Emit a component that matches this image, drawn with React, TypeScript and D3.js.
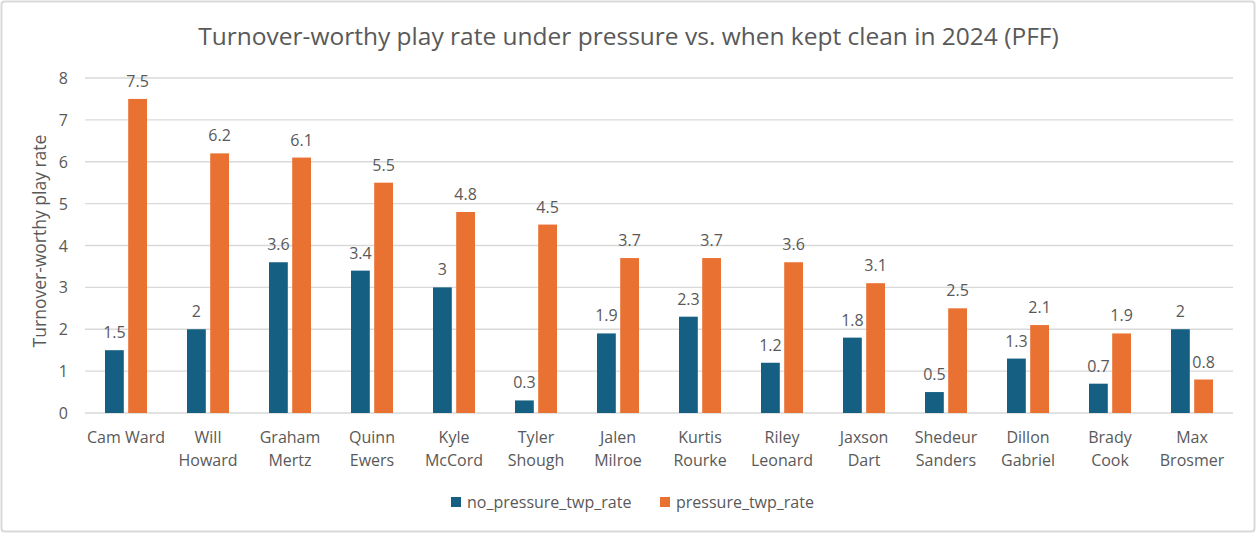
import React from "react";
import * as d3 from "d3";

const players = [
  "Cam Ward",
  "Will Howard",
  "Graham Mertz",
  "Quinn Ewers",
  "Kyle McCord",
  "Tyler Shough",
  "Jalen Milroe",
  "Kurtis Rourke",
  "Riley Leonard",
  "Jaxson Dart",
  "Shedeur Sanders",
  "Dillon Gabriel",
  "Brady Cook",
  "Max Brosmer",
];
// label lines as Excel wrapped them
const playerLines = [
  ["Cam Ward"],
  ["Will", "Howard"],
  ["Graham", "Mertz"],
  ["Quinn", "Ewers"],
  ["Kyle", "McCord"],
  ["Tyler", "Shough"],
  ["Jalen", "Milroe"],
  ["Kurtis", "Rourke"],
  ["Riley", "Leonard"],
  ["Jaxson", "Dart"],
  ["Shedeur", "Sanders"],
  ["Dillon", "Gabriel"],
  ["Brady", "Cook"],
  ["Max", "Brosmer"],
];
const noPressure = [1.5, 2, 3.6, 3.4, 3, 0.3, 1.9, 2.3, 1.2, 1.8, 0.5, 1.3, 0.7, 2];
const pressure = [7.5, 6.2, 6.1, 5.5, 4.8, 4.5, 3.7, 3.7, 3.6, 3.1, 2.5, 2.1, 1.9, 0.8];
const seriesNames = ["no_pressure_twp_rate", "pressure_twp_rate"];
const yTicks = [0, 1, 2, 3, 4, 5, 6, 7, 8];

const W = 1257;
const H = 533;
const colors = ["#156082", "#E97132"];
const textColor = "#595959";
const font = "'Open Sans', 'Noto Sans', sans-serif";

export default function App() {
  const left = 85;
  const right = 1233;
  const top = 78;
  const bottom = 413;

  const x = d3.scaleBand().domain(players).range([left, right]);
  const groupW = 42;
  const off = (x.bandwidth() - groupW) / 2;
  const inner = d3
    .scaleBand()
    .domain(seriesNames)
    .range([off, off + groupW])
    .paddingInner(0.19);
  const y = d3.scaleLinear().domain([0, 8]).range([bottom, top]);

  const series = [noPressure, pressure];

  return (
    <svg
      width={W}
      height={H}
      style={{ position: "fixed", left: 0, top: 0, background: "#fff", fontFamily: font }}
    >
      <rect x={1.5} y={1.5} width={W - 4} height={H - 3} rx={3} fill="#fff" stroke="#d9d9d9" strokeWidth={2} />
      <text x={W / 2 + 0} y={45} textAnchor="middle" fontSize={24.5} fill={textColor}>
        Turnover-worthy play rate under pressure vs. when kept clean in 2024 (PFF)
      </text>

      {yTicks.map((t) => (
        <g key={t}>
          <line x1={left} x2={right} y1={y(t)} y2={y(t)} stroke="#d9d9d9" strokeWidth={t === 0 ? 1.5 : 1.3} />
          <text x={68} y={y(t) + 6} textAnchor="end" fontSize={16} fill={textColor}>
            {t}
          </text>
        </g>
      ))}

      <text
        transform={`translate(46,${241}) rotate(-90)`}
        textAnchor="middle"
        fontSize={17.5}
        fill={textColor}
      >
        Turnover-worthy play rate
      </text>

      {players.map((p, i) => (
        <g key={p}>
          {series.map((vals, s) => {
            const bx = (x(p) as number) + (inner(seriesNames[s]) as number);
            const bw = inner.bandwidth();
            const v = vals[i];
            return (
              <g key={s}>
                <rect x={bx} y={y(v)} width={bw} height={y(0) - y(v)} fill={colors[s]} />
                <text x={bx + bw / 2} y={y(v) - 12} textAnchor="middle" fontSize={16} fill={textColor}>
                  {v}
                </text>
              </g>
            );
          })}
          {playerLines[i].map((line, k) => (
            <text
              key={k}
              x={(x(p) as number) + x.bandwidth() / 2}
              y={443 + k * 23}
              textAnchor="middle"
              fontSize={16}
              fill={textColor}
            >
              {line}
            </text>
          ))}
        </g>
      ))}

      {seriesNames.map((n, s) => {
        const lx = s === 0 ? 451 : 660;
        return (
          <g key={n}>
            <rect x={lx} y={497} width={10} height={10} fill={colors[s]} />
            <text x={lx + 16} y={507.5} fontSize={16} fill={textColor}>
              {n}
            </text>
          </g>
        );
      })}
    </svg>
  );
}
